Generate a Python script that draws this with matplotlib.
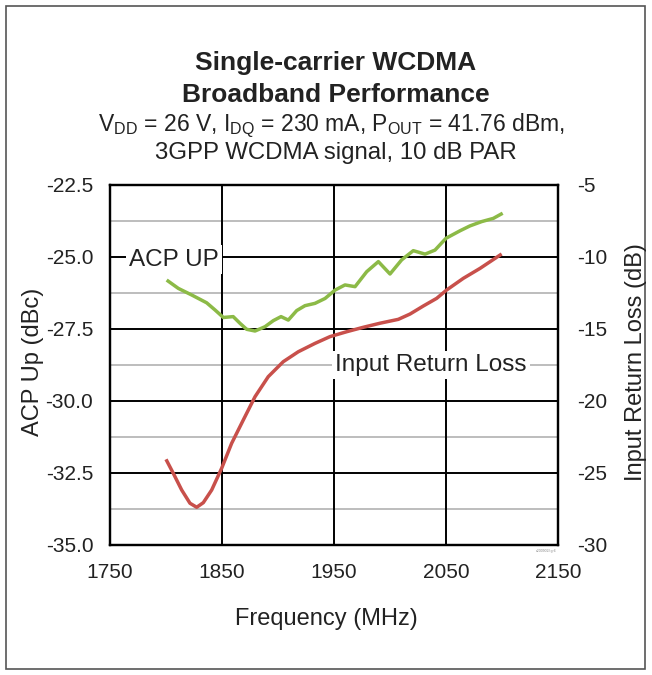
import matplotlib.pyplot as plt
import matplotlib.patches as patches
from matplotlib import rcParams

rcParams['font.family'] = ['Liberation Sans', 'DejaVu Sans']
rcParams['axes.unicode_minus'] = False

# ACP Up (left axis, dBc)
acp_freq = [1800.6, 1811, 1823, 1836.3, 1843.8, 1851.2, 1860, 1866, 1872, 1879.5, 1888.4,
            1895.8, 1902.7, 1909.2, 1916.7, 1924.1, 1933, 1942, 1950.9, 1959.8, 1968.8,
            1979.2, 1989.6, 2000, 2010.4, 2020.8, 2031.3, 2040.2, 2050, 2062.5, 2071.4,
            2081.9, 2092.2, 2100.6]
acp_up = [-25.80, -26.09, -26.32, -26.59, -26.84, -27.10, -27.07, -27.30, -27.51, -27.57,
          -27.42, -27.21, -27.07, -27.19, -26.86, -26.69, -26.61, -26.44, -26.15, -25.97,
          -26.03, -25.51, -25.16, -25.59, -25.10, -24.78, -24.90, -24.76, -24.35, -24.09,
          -23.92, -23.77, -23.66, -23.48]

# Input Return Loss (right axis, dB)
irl_freq = [1800, 1806.5, 1814, 1821.4, 1827.4, 1833.3, 1840.8, 1849.7, 1858.6, 1869,
            1879.5, 1891.3, 1904.7, 1918.1, 1933, 1946.4, 1961.3, 1976.2, 1991, 2007.4,
            2017.9, 2029.8, 2041.7, 2050.6, 2065.5, 2080.4, 2099.7]
irl = [-24.05, -25.02, -26.18, -27.10, -27.38, -27.06, -26.18, -24.67, -22.94, -21.32,
       -19.70, -18.31, -17.27, -16.58, -16.00, -15.53, -15.19, -14.88, -14.60, -14.33,
       -13.96, -13.40, -12.87, -12.29, -11.48, -10.79, -9.79]

xticks = [1750, 1850, 1950, 2050, 2150]
left_ticks = [-35.0, -32.5, -30.0, -27.5, -25.0, -22.5]
right_ticks = [-30, -25, -20, -15, -10, -5]

fig = plt.figure(figsize=(6.52, 6.75), dpi=100)
fig.patches.append(patches.Rectangle((6/652, 6/675), 639/652, 663/675, transform=fig.transFigure,
                                     fill=False, edgecolor='#555555', linewidth=1.2))

ax = fig.add_axes([110/652, 130/675, 448/652, 360/675])
ax2 = ax.twinx()

ax.set_xlim(1750, 2150)
ax.set_ylim(-35, -22.5)
ax2.set_ylim(-30, -5)

# grid: gray minor lines, black major lines
for y in [-33.75, -31.25, -28.75, -26.25, -23.75]:
    ax.axhline(y, color='#b8b8b8', linewidth=1.3, zorder=1)
for y in left_ticks[1:-1]:
    ax.axhline(y, color='black', linewidth=1.4, zorder=1)
for x in xticks[1:-1]:
    ax.axvline(x, color='black', linewidth=1.4, zorder=1)

ax.set_xticks(xticks)
ax.set_yticks(left_ticks)
ax.set_yticklabels(['%.1f' % v for v in left_ticks])
ax2.set_yticks(right_ticks)
ax.tick_params(axis='both', length=0, labelsize=15, labelcolor='#222222')
ax.tick_params(axis='y', pad=12)
ax.tick_params(axis='x', pad=13)
ax2.tick_params(axis='y', length=0, labelsize=15, pad=14, labelcolor='#222222')

for a in (ax, ax2):
    for s in a.spines.values():
        s.set_linewidth(1.6)

ax.text(1767, -25.1, 'ACP UP', fontsize=17.5, color='#222222', va='center', ha='left', zorder=3,
        bbox=dict(facecolor='white', edgecolor='none', pad=2.5))
ax.text(1951, -28.75, 'Input Return Loss', fontsize=17.5, color='#222222', va='center', ha='left', zorder=3,
        bbox=dict(facecolor='white', edgecolor='none', pad=2.5))

ax.plot(acp_freq, acp_up, color='#8cba47', linewidth=2.5, zorder=4,
        solid_capstyle='butt', solid_joinstyle='round')
ax2.plot(irl_freq, irl, color='#c8504b', linewidth=2.5, zorder=4,
         solid_capstyle='butt', solid_joinstyle='round')

fig.text(0.5, 1 - 619/675, 'Frequency (MHz)', ha='center', va='center', fontsize=17, color='#222222')
fig.text(33/652, 1 - 362/675, 'ACP Up (dBc)', ha='center', va='center', rotation=90, fontsize=17, color='#222222')
fig.text(636/652, 1 - 362/675, 'Input Return Loss (dB)', ha='center', va='center', rotation=90, fontsize=17, color='#222222')

cx = 336 / 652
fig.text(cx, 1 - 63/675, 'Single-carrier WCDMA', ha='center', va='center', fontsize=19, fontweight='bold', color='#222222')
fig.text(cx, 1 - 95/675, 'Broadband Performance', ha='center', va='center', fontsize=19, fontweight='bold', color='#222222')
fig.text(331/652, 1 - 126/675, r'V$_{\mathregular{DD}}$ = 26 V, I$_{\mathregular{DQ}}$ = 230 mA, P$_{\mathregular{OUT}}$ = 41.76 dBm,',
         ha='center', va='center', fontsize=16.5, color='#222222')
fig.text(cx, 1 - 153/675, '3GPP WCDMA signal, 10 dB PAR', ha='center', va='center', fontsize=17.3, color='#222222')
fig.text(556/652, 1 - 551/675, 'c200902f-gr6', ha='right', va='center', fontsize=2.5, color='#888888')

fig.savefig('out.png', dpi=100)
